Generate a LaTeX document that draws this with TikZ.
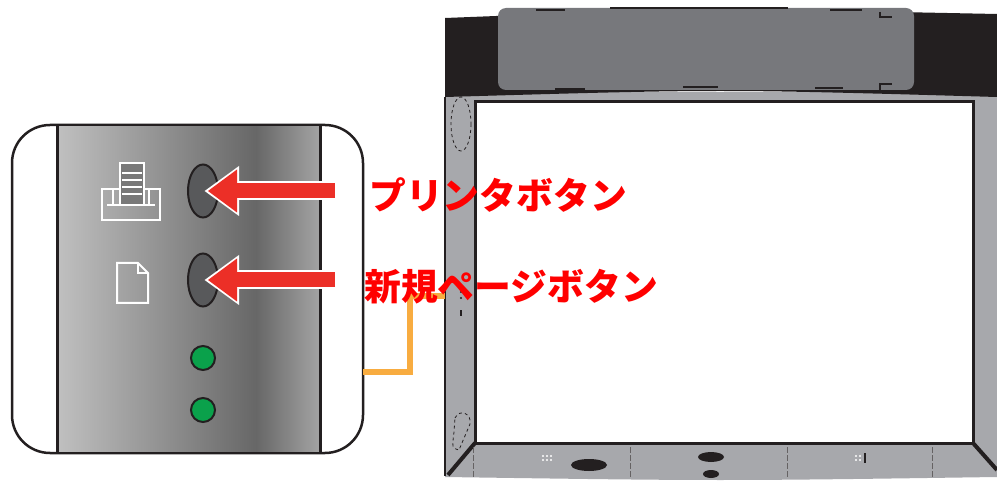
\documentclass[tikz,border=0pt]{standalone}
\usepackage{fontspec}
\newfontfamily\jpfont{Noto Sans CJK JP}[BoldFont={Noto Sans CJK JP Black}]
\usetikzlibrary{arrows.meta,shapes.geometric}
\definecolor{domui}{HTML}{EC2F27}
\definecolor{chudo}{HTML}{FF0000}
\definecolor{capcam}{HTML}{F8AC40}
\definecolor{denxanh}{HTML}{0AA14B}
\definecolor{khungxam}{HTML}{A7A8AC}
\definecolor{tamxam}{HTML}{77787C}
\definecolor{nutxam}{HTML}{58595B}
\definecolor{vien}{HTML}{231F20}
\definecolor{xamsang}{HTML}{C0C0C0}
\definecolor{xamtoi}{HTML}{676767}
\definecolor{xamvua}{HTML}{A3A3A3}
\pgfdeclarehorizontalshading{bangden}{100bp}{color(0bp)=(xamsang); color(25bp)=(xamsang); color(63bp)=(xamtoi); color(75bp)=(xamvua); color(100bp)=(xamvua)}
\begin{document}
\begin{tikzpicture}[x=1pt,y=-1pt,
	nut/.style={ellipse,draw=vien,line width=2pt,fill=nutxam,minimum width=30pt,minimum height=53pt,inner sep=0pt},
	den/.style={circle,draw=vien,line width=2pt,fill=denxanh,minimum size=24pt,inner sep=0pt},
	bieutuong/.style={draw=white,line width=2pt},
	chuthich/.style={anchor=west,text=chudo,inner sep=0pt,font=\jpfont\bfseries\fontsize{36.8}{40}\selectfont},
	vienmui/.style={draw=white,line width=19pt,shorten >=1.6pt,-{Triangle[length=34.4pt,width=50pt,line width=0pt]}},
	muido/.style={draw=domui,line width=15pt,shorten >=5pt,-{Triangle[length=29pt,width=43pt,line width=0pt]}},
	daycap/.style={draw=capcam,line width=6pt}]
				\useasboundingbox (0,0) rectangle (997,481);
				%Vẽ bảng điều khiển
				\draw[vien,line width=2.5pt,fill=white,rounded corners=38pt] (12,125) rectangle (363,453);
				\shade[shading=bangden] (57,126.5) rectangle (319,451.5);
				\draw[vien,line width=3pt] (57,126) -- (57,452) (320,126) -- (320,452);
				% Biểu tượng máy in và trang giấy
				\draw[bieutuong] (102,189) rectangle (160,220);
				\draw[bieutuong] (107,205) -- (155,205) (113,190) -- (113,205) (149,190) -- (149,205);
				\draw[bieutuong,fill=xamtoi!80!xamsang] (120,163) rectangle (144,205);
				\foreach \y in {173,180,187,194}
				\draw[bieutuong,line width=1.5pt] (122,\y) -- (142,\y);
				\draw[bieutuong] (117,263) -- (138,263) -- (148,273) -- (148,303) -- (117,303) -- cycle;
				\draw[bieutuong] (138,263) -- (138,273) -- (148,273);
				% Các nút và đèn
				\node[nut] (nutIn) at (203,191) {};
				\node[nut] (nutMoi) at (203,280) {};
				\node[den] (denA) at (203,358) {};
				\node[den] (denB) at (203,410) {};
				%Vẽ bảng trắng
				\fill[khungxam] (445,92) -- (997,92) -- (997,477) .. controls (720,481) .. (445,477) -- cycle;
				\fill[vien] (445,18) .. controls (700,8) .. (997,14) -- (997,97) .. controls (720,89) .. (445,97) -- cycle;
				\fill[tamxam,rounded corners=8pt] (498,8) rectangle (914,90);
				\draw[vien,line width=1.5pt] (610,8) -- (788,8) (536,10) -- (565,10) (830,10) -- (862,10)
					(555,89) -- (585,89) (683,87) -- (718,87) (815,88) -- (843,88)
					(880,12) -- (880,17) -- (892,17) (880,90) -- (880,84) -- (892,84);
				\draw[vien,line width=3pt,fill=white] (475,102) rectangle (973,443);
				\draw[vien,line width=2pt] (445,97) -- (445,476);
				\draw[vien,line width=4pt] (475,443) -- (448,475) (973,443) -- (997,470);
				\foreach \x in {473,630,787,932}
				\draw[vien!70,line width=0.8pt,dash pattern=on 6pt off 2pt] (\x,447) -- (\x,478);
				% Chi tiết ở viền
				\draw[vien,dashed,line width=0.8pt] (461,124) ellipse [x radius=10, y radius=27];
				\draw[vien,dashed,line width=0.8pt] (455,418) .. controls (460,408) and (472,414) .. (470,424) -- (459,450) .. controls (452,448) .. (454,432) -- cycle;
				\foreach \y in {292,298}
				\fill[vien] (461,\y) circle (1.2);
				\fill[vien] (460,310) rectangle (462,316);
				\fill[vien] (589,465) ellipse [x radius=18, y radius=6];
				\fill[vien] (711,457) ellipse [x radius=13, y radius=5];
				\fill[vien] (711,474) ellipse [x radius=8, y radius=4];
				\foreach \i in {0,1,2}
				\foreach \j in {0,1}
				\fill[white] (543+4*\i,456+4*\j) circle (1.1);
				\foreach \i in {0,1}
				\foreach \j in {0,1}
				\fill[white] (856+4*\i,456+4*\j) circle (1.1);
				\fill[vien] (864,453) rectangle (866,463);
				% Dây nối
				\coordinate (congBang) at (363,372);
				\coordinate (congTrang) at (445,296);
				\draw[daycap] (congBang) -- ++(47,0) |- (congTrang);
				% Mũi tên chỉ vào nút
				\coordinate (duoiIn) at (335,191);
				\coordinate (duoiMoi) at (335,280);
				\draw[vienmui] (duoiIn) -- (nutIn.center);
				\draw[vienmui] (duoiMoi) -- (nutMoi.center);
				\draw[muido] (duoiIn) -- (nutIn.center);
				\draw[muido] (duoiMoi) -- (nutMoi.center);
				% Chú thích
				\node[chuthich] (chuIn) at (369,195) {プリンタボタン};
				\node[chuthich] (chuMoi) at (364,287) {新規ページボタン};
		\end{tikzpicture}
\end{document}
